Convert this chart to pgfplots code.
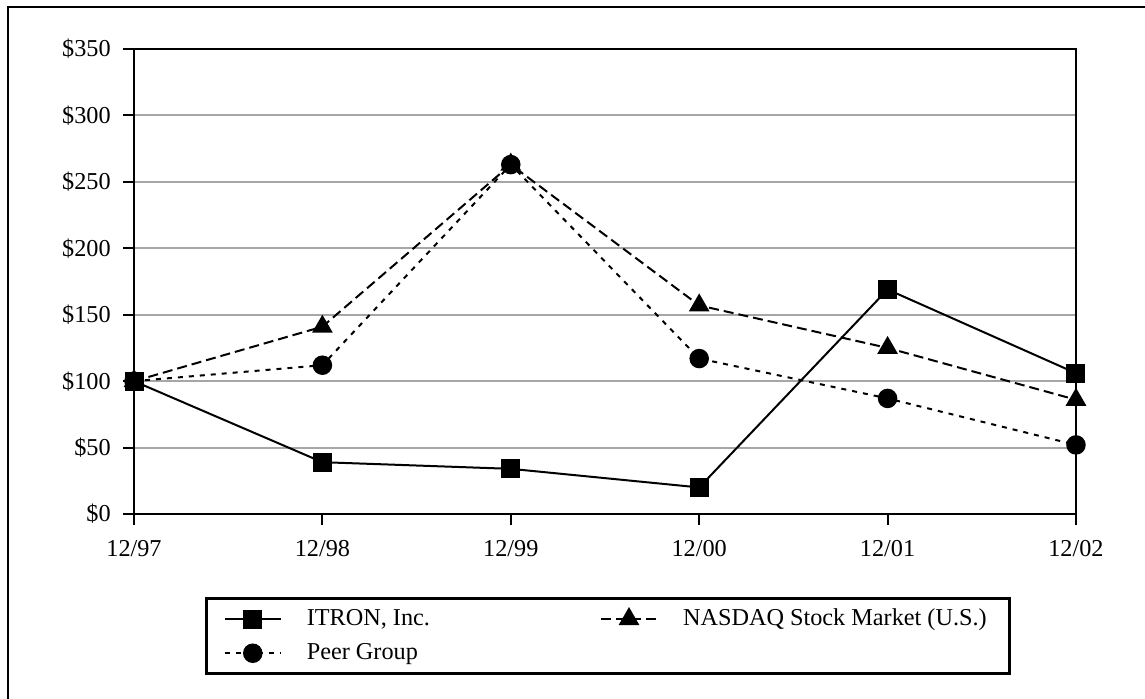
\documentclass[border=0pt]{standalone}
\usepackage{fontspec}
\setmainfont{Liberation Serif}
\usepackage{pgfplots}
\pgfplotsset{compat=1.18}
\begin{document}
\begin{tikzpicture}
\useasboundingbox (0,0) rectangle (458pt,279.2pt);
% outer frame (only left and top edges fall inside the page)
\draw[line width=1pt] (3.2pt,-10pt) -- (3.2pt,276.4pt) -- (470pt,276.4pt);
\begin{axis}[
  at={(53.6pt,73.6pt)}, anchor=south west,
  scale only axis, width=376.8pt, height=186pt,
  xmin=0, xmax=5, ymin=0, ymax=350,
  xtick={0,1,2,3,4,5},
  xticklabels={12/97,12/98,12/99,12/00,12/01,12/02},
  ytick={0,50,100,150,200,250,300,350},
  yticklabels={\$0,\$50,\$100,\$150,\$200,\$250,\$300,\$350},
  ymajorgrids,
  grid style={gray!70, line width=0.8pt},
  axis line style={line width=0.9pt},
  tick align=outside, xtick pos=bottom, ytick pos=left,
  major tick length=4.4pt,
  tick style={black, line width=0.8pt},
  ticklabel style={font=\fontsize{9.7}{11}\selectfont},
  xticklabel style={yshift=-2.6pt},
  yticklabel style={xshift=-1.4pt},
  /pgf/number format/assume math mode=true,
  legend columns=2,
  legend cell align=left,
  legend style={at={(axis description cs:0.0754,-0.1785)}, anchor=north west,
    draw=black, line width=1pt, inner xsep=7pt, inner ysep=2.2pt,
    font=\fontsize{9.7}{11.2}\selectfont, row sep=1.6pt,
    /tikz/every odd column/.append style={column sep=8pt},
    /tikz/every even column/.append style={column sep=66pt}},
  legend image code/.code={\draw[mark repeat=2,mark phase=2,#1]
    plot coordinates {(0pt,0pt) (11.2pt,0pt) (22.4pt,0pt)};},
]
\addplot[black, line width=0.8pt, mark=square*, mark size=3.4pt,
  mark options={solid}]
  coordinates {(0,100) (1,39) (2,34) (3,20) (4,169) (5,106)};
\addlegendentry{ITRON, Inc.}
\addplot[black, line width=0.8pt, dash pattern=on 4pt off 2pt,
  mark=triangle*, mark size=4pt, mark options={solid}]
  coordinates {(0,100) (1,141) (2,263) (3,157) (4,125) (5,86)};
\addlegendentry{NASDAQ Stock Market (U.S.)}
\addplot[black, line width=0.8pt, dash pattern=on 2pt off 2.4pt,
  mark=*, mark size=3.5pt, mark options={solid}]
  coordinates {(0,100) (1,112) (2,263) (3,117) (4,87) (5,52)};
\addlegendentry{Peer Group}
\end{axis}
\end{tikzpicture}
\end{document}
